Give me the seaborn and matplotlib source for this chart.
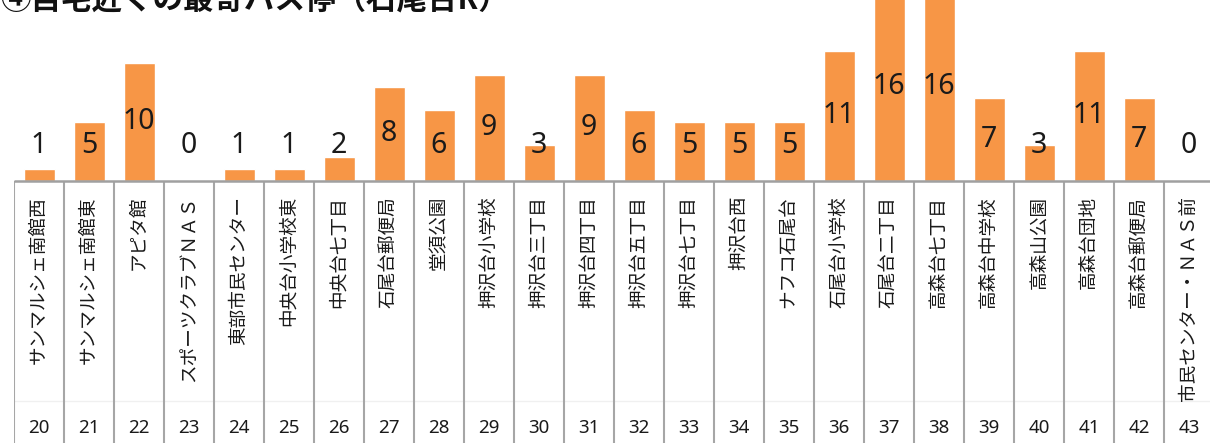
import matplotlib
matplotlib.use("Agg")
import matplotlib.pyplot as plt
import seaborn as sns
import pandas as pd

title = "④自宅近くの最寄バス停（石尾台R）"
stop_names = [
    "サンマルシェ南館西", "サンマルシェ南館東", "アピタ館", "スポーツクラブＮＡＳ",
    "東部市民センター", "中央台小学校東", "中央台七丁目", "石尾台郵便局",
    "堂須公園", "押沢台小学校", "押沢台三丁目", "押沢台四丁目",
    "押沢台五丁目", "押沢台七丁目", "押沢台西", "ナフコ石尾台",
    "石尾台小学校", "石尾台二丁目", "高森台七丁目", "高森台中学校",
    "高森山公園", "高森台団地", "高森台郵便局", "市民センター・ＮＡＳ前",
]
stop_numbers = [str(n) for n in range(20, 44)]
counts = [1, 5, 10, 0, 1, 1, 2, 8, 6, 9, 3, 9, 6, 5, 5, 5, 11, 16, 16, 7, 3, 11, 7, 0]

sns.set_style("white")
plt.rcParams["font.family"] = ["Noto Sans CJK JP", "DejaVu Sans"]
digit_font = ["Noto Sans", "Noto Sans CJK JP", "DejaVu Sans"]

W, H = 1210, 443
fig = plt.figure(figsize=(W / 100, H / 100), dpi=100)
ax = fig.add_axes([14 / W, 0, 1200 / W, 1])

df = pd.DataFrame({"stop": stop_numbers, "count": counts})
sns.barplot(data=df, x="stop", y="count", order=stop_numbers, color="#F79646",
            saturation=1, width=0.62, ax=ax)

px_per_unit = 11.75
base_px = 180.5
ax.set_xlim(-0.5, len(stop_numbers) - 0.5)
ax.set_ylim(-(H - base_px) / px_per_unit, base_px / px_per_unit)
ax.set_xticks([])
ax.set_yticks([])
ax.set_xlabel("")
ax.set_ylabel("")
for s in ax.spines.values():
    s.set_visible(False)

def py(px):
    return (base_px - px) / px_per_unit

ymin = ax.get_ylim()[0]
n = len(stop_numbers)
ax.hlines(py(401), -0.5, n - 0.5, color="#F0F0F0", lw=1, zorder=1)
ax.vlines([i - 0.5 for i in range(n + 1)], ymin, 0, color="#A6A6A6", lw=1.5, zorder=2)
ax.hlines(0, -0.5, n - 0.5, color="#A0A0A0", lw=1.8, zorder=3)

for i, (name, num, v) in enumerate(zip(stop_names, stop_numbers, counts)):
    ax.text(i, max(v / 2, 3.0), str(v), ha="center", va="center",
            fontsize=20.5, color="#1a1a1a", zorder=5, family=digit_font)
    ax.text(i, py(196), name, rotation=90, ha="center", va="top",
            fontsize=13.4, color="#1a1a1a")
    ax.text(i, py(428), num, ha="center", va="center", fontsize=13.5,
            color="#1a1a1a", family=digit_font)

fig.text(0, 1 - 8 / H, title, ha="left", va="baseline", fontsize=22,
         fontweight="bold", color="#111111")

fig.savefig("out.png", dpi=100)
